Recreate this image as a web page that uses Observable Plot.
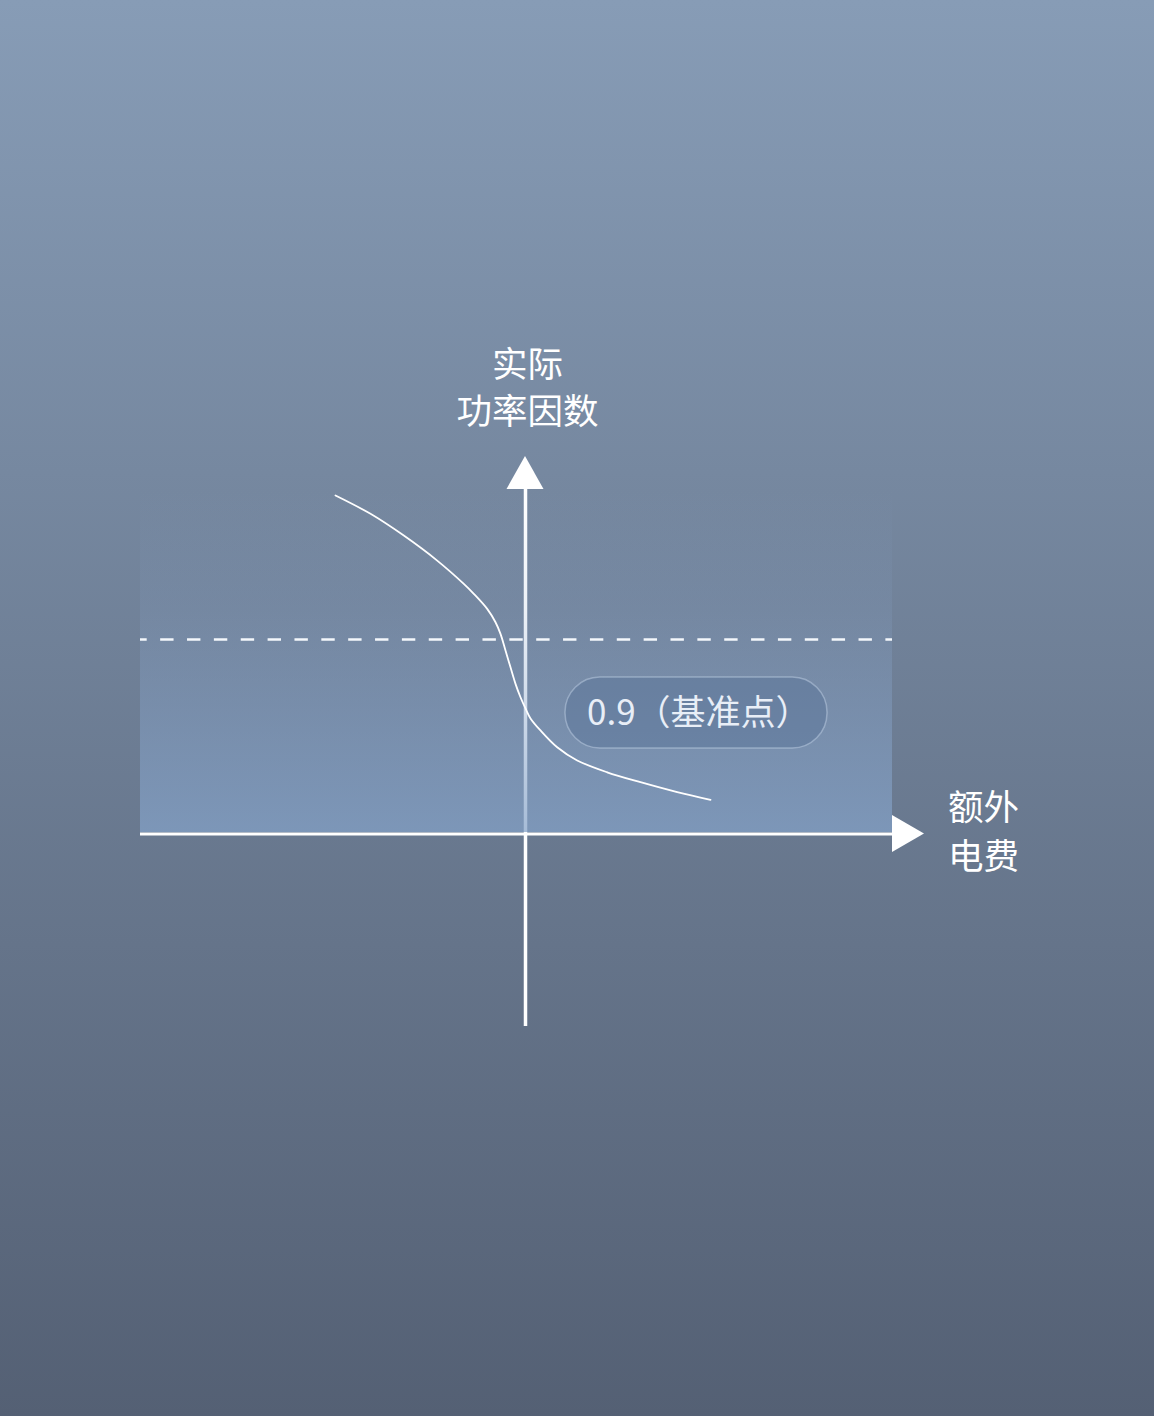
<!DOCTYPE html>
<html><head><meta charset="utf-8">
<script src="https://cdn.jsdelivr.net/npm/d3@7"></script>
<script src="https://cdn.jsdelivr.net/npm/@observablehq/plot@0.6"></script>
<style>
html,body{margin:0;padding:0;}
body{width:1154px;height:1416px;overflow:hidden;background:linear-gradient(180deg,#879cb6 0%,#546074 100%);}
#chart svg{display:block;}
</style>
</head><body><div id="chart"></div>
<script>
// ---- data (schematic units) ----
const curveX = [-1.90, -1.55, -1.217, -0.883, -0.617, -0.517, -0.383, -0.30, -0.25, -0.20, -0.15, -0.10, -0.05, 0, 0.05, 0.15, 0.317, 0.517, 0.817, 1.15, 1.517, 1.85];
const curveY = [1.568, 1.483, 1.382, 1.266, 1.158, 1.112, 1.042, 0.980, 0.926, 0.849, 0.771, 0.694, 0.632, 0.580, 0.534, 0.478, 0.400, 0.339, 0.284, 0.238, 0.192, 0.156];
const baseline = [0.9];
const baseLabel = ["0.9（基准点）"];
const labelBox = {x1: [0.40], x2: [3.02], y1: [0.394], y2: [0.724]};
const labelTextX = [0.615];
const yAxisLabel = ["实际", "功率因数"];
const xAxisLabel = ["额外", "电费"];
const xExtent = [-3.85, 3.67];
const yExtent = [-0.895, 1.596];
const areaTop = [1.591];

const curve = curveX.map((x, i) => ({x, y: curveY[i]}));
const FONT = "'Noto Sans CJK SC','Noto Sans',sans-serif";

function defs() {
  const d = d3.create("svg:defs");
  const g = d.append("linearGradient").attr("id", "areaGrad")
    .attr("x1", 0).attr("y1", 0).attr("x2", 0).attr("y2", 1);
  g.append("stop").attr("offset", "0%").attr("stop-color", "#8aa6cc").attr("stop-opacity", 0);
  g.append("stop").attr("offset", "35%").attr("stop-color", "#8aa6cc").attr("stop-opacity", 0.16);
  g.append("stop").attr("offset", "100%").attr("stop-color", "#84a2c8").attr("stop-opacity", 0.72);
  return d.node();
}

function arrows(index, scales) {
  const g = d3.create("svg:g").attr("fill", "#ffffff");
  const x0 = scales.x(0), yTop = scales.y(yExtent[1]);
  g.append("path").attr("d", `M${x0 - 18.5},${yTop}L${x0},${yTop - 33}L${x0 + 18.5},${yTop}Z`);
  const xR = scales.x(xExtent[1]), y0 = scales.y(0) + 0.5;
  g.append("path").attr("d", `M${xR},${y0 - 18.5}L${xR + 32},${y0}L${xR},${y0 + 18.5}Z`);
  return g.node();
}

const plot = Plot.plot({
  width: 1154,
  height: 1416,
  margin: 0,
  x: {domain: [-5.25, 6.29], range: [0, 1154], axis: null},
  y: {domain: [-2.7046, 3.8644], range: [1416, 0], axis: null},
  style: {background: "transparent", fontFamily: FONT, overflow: "visible"},
  marks: [
    defs,
    Plot.ruleY([0], {x1: xExtent[0], x2: xExtent[1], stroke: "#ffffff", strokeWidth: 3, dy: 0.5}),
    Plot.ruleX([0], {y1: yExtent[0], y2: yExtent[1], stroke: "#ffffff", strokeWidth: 3.5}),
    Plot.rect(areaTop, {x1: xExtent[0], x2: xExtent[1], y1: 0, y2: d => d, fill: "url(#areaGrad)", dy: -1}),
    Plot.ruleY(baseline, {x1: xExtent[0], x2: xExtent[1], stroke: "#f4f7fb", strokeWidth: 2.5,
      strokeDasharray: "13.4,13.46", strokeDashoffset: 6.7}),
    Plot.line(curve, {x: "x", y: "y", curve: "catmull-rom", stroke: "#ffffff", strokeWidth: 1.8}),
    Plot.rect([0], {x1: labelBox.x1, x2: labelBox.x2, y1: labelBox.y1, y2: labelBox.y2,
      rx: 35, fill: "#5a7397", fillOpacity: 0.5, stroke: "#c8d6ea", strokeOpacity: 0.45, strokeWidth: 1.5}),
    Plot.text(baseLabel, {x: labelTextX, y: (labelBox.y1[0] + labelBox.y2[0]) / 2, text: d => d,
      textAnchor: "start", fontSize: 35, fill: "#e8eef7", fontFamily: FONT, dy: 1}),
    Plot.text([yAxisLabel[0]], {x: 0, y: yExtent[1], text: d => d, textAnchor: "middle",
      dy: -124, dx: 2, fontSize: 35.5, fill: "#ffffff", fontFamily: FONT}),
    Plot.text([yAxisLabel[1]], {x: 0, y: yExtent[1], text: d => d, textAnchor: "middle",
      dy: -77, dx: 2, fontSize: 35.5, fill: "#ffffff", fontFamily: FONT}),
    Plot.text([xAxisLabel[0]], {x: xExtent[1], y: 0, text: d => d, textAnchor: "middle",
      dx: 91, dy: -25, fontSize: 35.5, fill: "#ffffff", fontFamily: FONT}),
    Plot.text([xAxisLabel[1]], {x: xExtent[1], y: 0, text: d => d, textAnchor: "middle",
      dx: 91, dy: 24, fontSize: 35.5, fill: "#ffffff", fontFamily: FONT}),
    arrows
  ]
});
document.getElementById("chart").appendChild(plot);
</script>
</body></html>
